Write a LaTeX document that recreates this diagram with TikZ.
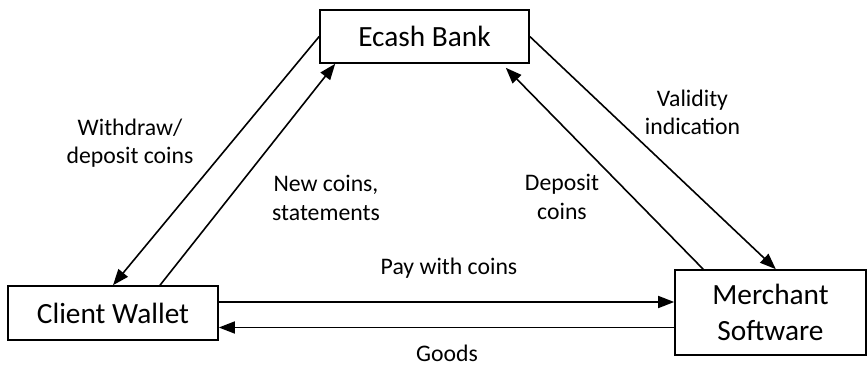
\documentclass[tikz,border=0pt]{standalone}
\usepackage{fontspec}
\setmainfont{Carlito}
\usetikzlibrary{arrows.meta}
\tikzset{box/.style={draw,line width=1.2pt,inner sep=0pt,align=center,font=\fontsize{22}{26.4}\selectfont},
	lab/.style={align=center,font=\fontsize{17.8}{21.4}\selectfont},
	arr/.style={line width=1.2pt,-{Triangle[length=12pt,width=9pt]}}}
\begin{document}
\begin{tikzpicture}[x=0.75pt,y=-0.75pt]
		\useasboundingbox (0,0) rectangle (868,367);
		\node[box,minimum width=156.75pt,minimum height=39.75pt](B) at(424.5,36.5){Ecash Bank};
		\node[box,minimum width=157.5pt,minimum height=40.5pt](C) at(113,313){Client Wallet};
		\node[box,minimum width=143.25pt,minimum height=63.75pt](M) at(770.5,312.5){Merchant\\Software};
		\draw[arr](B.west)--(C.north);
		\draw[arr]([xshift=35.25pt]C.north)--([xshift=12pt]B.south west);
		\draw[arr]([xshift=21.75pt]M.north west)--([xshift=-18pt,yshift=-3pt]B.south east);
		\draw[arr](B.east)--([xshift=4pt]M.north);
		\draw[arr]([yshift=8.25pt]C.east)--([yshift=8.25pt]C.east-|M.west);
		\draw[arr]([yshift=-11.25pt]M.west)--([yshift=-11.25pt]M.west-|C.east);
		\node[lab](WD) at(130,143){Withdraw/\\deposit coins};
		\node[lab](NC) at(326,198){New coins,\\statements};
		\node[lab](DC) at(562,197){Deposit\\coins};
		\node[lab](VI) at(692.5,112.5){Validity\\indication};
		\node[lab](PC) at(449,268){Pay with coins};
		\node[lab](GD) at(447,353){Goods};
		\end{tikzpicture}
\end{document}
